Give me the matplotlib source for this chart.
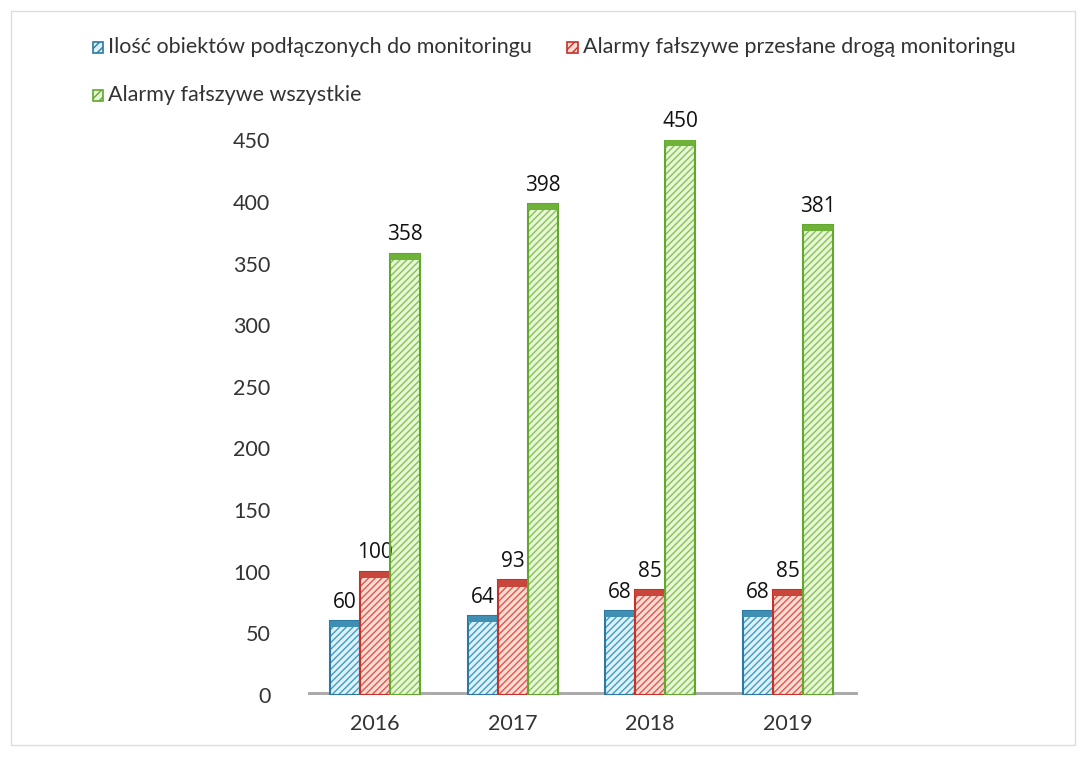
import numpy as np
import matplotlib.pyplot as plt
from matplotlib.patches import Rectangle

years = ['2016', '2017', '2018', '2019']
obiekty = [60, 64, 68, 68]
alarmy_monitoring = [100, 93, 85, 85]
alarmy_wszystkie = [358, 398, 450, 381]

names = ['Ilość obiektów podłączonych do monitoringu',
         'Alarmy fałszywe przesłane drogą monitoringu',
         'Alarmy fałszywe wszystkie']
faces = ['#dff1f8', '#fbdcd4', '#e8f5d8']
hatches = ['#3f9ec4', '#e2574a', '#86c454']
edges = ['#2c7aa3', '#c8302a', '#62a82e']
caps = ['#3f8fb5', '#c9463c', '#6fb23a']

plt.rcParams['font.family'] = ['Lato', 'DejaVu Sans']
plt.rcParams['hatch.linewidth'] = 1.0

fig = plt.figure(figsize=(10.91, 7.6), dpi=100)
fig.patches.append(Rectangle((0.01, 0.02), 0.975, 0.965, transform=fig.transFigure,
                             fill=False, edgecolor='#dddddd', lw=1))
ax = fig.add_axes([0.2823, 0.0855, 0.504, 0.730])

x = np.arange(len(years))
w = 0.218
series = [obiekty, alarmy_monitoring, alarmy_wszystkie]
offsets = [-w, 0, w]
for i, vals in enumerate(series):
    plt.rcParams['hatch.color'] = hatches[i]
    ax.bar(x + offsets[i], vals, w, color=faces[i], edgecolor=hatches[i],
           hatch='/////', lw=0, zorder=2)
    ax.bar(x + offsets[i], vals, w, fill=False, edgecolor=edges[i], lw=1.5, zorder=3)
    # top cap
    ax.bar(x + offsets[i], [5] * len(vals), w, bottom=np.array(vals) - 5,
           color=caps[i], lw=0, zorder=3)
    for xi, v in zip(x, vals):
        ax.annotate(str(v), (xi + offsets[i], v), xytext=(0, 6), textcoords='offset points',
                    ha='center', va='bottom', fontsize=15, color='#111111',
                    family=['Open Sans', 'DejaVu Sans'])

ax.axhline(0, color='#aaaaaa', lw=5, zorder=1)
ax.set_xlim(-0.487, 3.51)
ax.set_ylim(0, 450)
ax.set_yticks(np.arange(0, 451, 50))
ax.set_xticks(x)
ax.set_xticklabels(years)
ax.tick_params(axis='both', length=0, labelsize=15.5, colors='#333333')
ax.tick_params(axis='y', pad=27)
ax.tick_params(axis='x', pad=14)
for s in ax.spines.values():
    s.set_visible(False)

# legend
legend_rows = [(0.085, 0.938, 0), (0.520, 0.938, 1), (0.085, 0.875, 2)]
for lx, ly, i in legend_rows:
    fig.patches.append(Rectangle((lx, ly - 0.008), 0.0095, 0.0145, transform=fig.transFigure,
                                 facecolor=faces[i], edgecolor=edges[i], hatch='////', lw=1.2))
    fig.text(lx + 0.014, ly, names[i], fontsize=15.5, va='center', color='#333333')

fig.savefig('out.png', dpi=100)
